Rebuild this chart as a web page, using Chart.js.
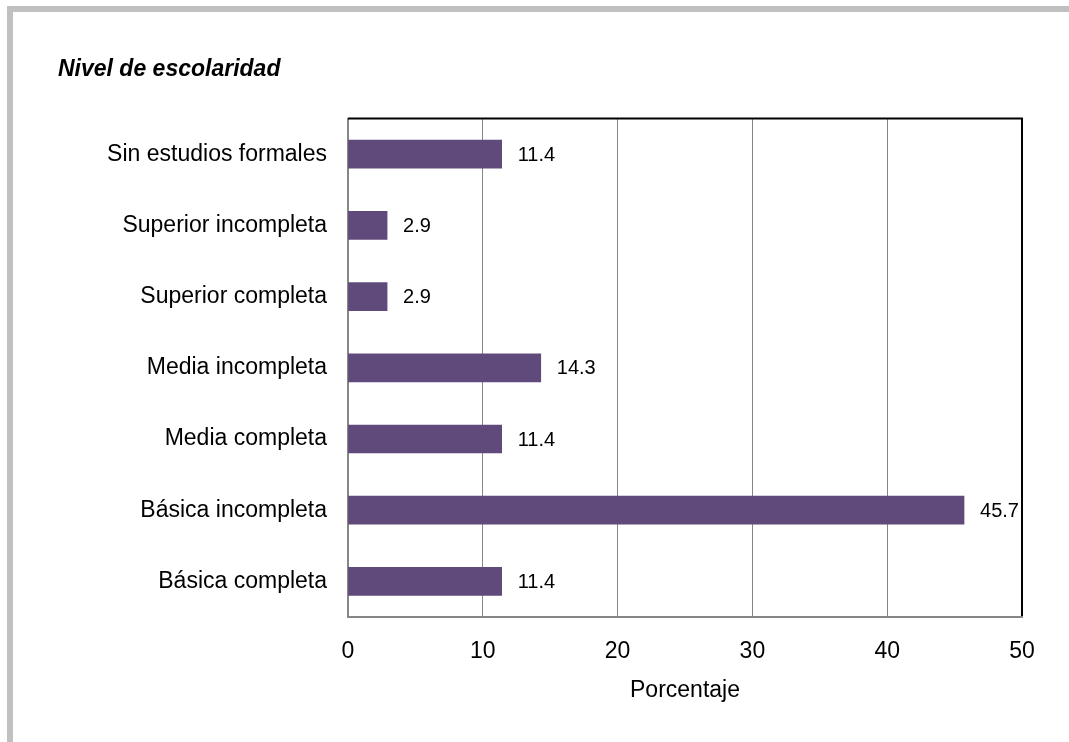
<!DOCTYPE html>
<html lang="es">
<head>
    <meta charset="UTF-8">
    <title>Nivel de escolaridad</title>
    <script src="https://cdn.jsdelivr.net/npm/chart.js"></script>
    <style>
        body {
            margin: 0;
            padding: 0;
            background: #ffffff;
        }
        #wrap {
            width: 1069px;
            height: 742px;
        }
    </style>
</head>
<body>
    <div id="wrap">
        <canvas id="escolaridadChart" width="1069" height="742"></canvas>
    </div>

    <script>
        // Niveles de escolaridad (de arriba hacia abajo)
        const categorias = [
            'Sin estudios formales',
            'Superior incompleta',
            'Superior completa',
            'Media incompleta',
            'Media completa',
            'Básica incompleta',
            'Básica completa'
        ];
        const porcentajes = [11.4, 2.9, 2.9, 14.3, 11.4, 45.7, 11.4];
        const ejeMin = 0;
        const ejeMax = 50;
        const ejePaso = 10;

        const FUENTE = '"Liberation Sans", Arial, sans-serif';
        const GRIS = '#868686';

        // marco gris exterior
        const marco = {
            id: 'marco',
            beforeDraw(chart) {
                const ctx = chart.ctx;
                ctx.save();
                ctx.fillStyle = '#c0c0c0';
                ctx.fillRect(7, 6, chart.width - 7, 6);
                ctx.fillRect(7, 6, 6, chart.height - 6);
                ctx.restore();
            }
        };

        // borde superior negro del area de trazado
        const bordeSuperior = {
            id: 'bordeSuperior',
            afterDraw(chart) {
                const a = chart.chartArea;
                const ctx = chart.ctx;
                ctx.save();
                ctx.strokeStyle = '#000000';
                ctx.lineWidth = 2;
                ctx.beginPath();
                ctx.moveTo(a.left, a.top);
                ctx.lineTo(a.right + 1, a.top);
                ctx.stroke();
                ctx.restore();
            }
        };

        // etiquetas con el valor de cada barra
        const etiquetasValor = {
            id: 'etiquetasValor',
            afterDatasetsDraw(chart) {
                const ctx = chart.ctx;
                const meta = chart.getDatasetMeta(0);
                ctx.save();
                ctx.font = '20px ' + FUENTE;
                ctx.fillStyle = '#000000';
                ctx.textAlign = 'left';
                ctx.textBaseline = 'middle';
                meta.data.forEach((bar, i) => {
                    const v = chart.data.datasets[0].data[i];
                    ctx.fillText(v.toFixed(1), bar.x + 16, bar.y + 1);
                });
                ctx.restore();
            }
        };

        const ctx = document.getElementById('escolaridadChart').getContext('2d');
        new Chart(ctx, {
            type: 'bar',
            data: {
                labels: categorias,
                datasets: [{
                    data: porcentajes,
                    backgroundColor: '#604A7B',
                    borderWidth: 0,
                    barThickness: 28
                }]
            },
            options: {
                indexAxis: 'y',
                responsive: false,
                animation: false,
                layout: {
                    padding: { left: 58, right: 47, top: 0, bottom: 0 }
                },
                plugins: {
                    legend: { display: false },
                    tooltip: { enabled: false },
                    title: {
                        display: true,
                        text: 'Nivel de escolaridad',
                        align: 'start',
                        color: '#000000',
                        font: { family: FUENTE, size: 23, weight: 'bold', style: 'italic' },
                        padding: { top: 56, bottom: 35 }
                    }
                },
                scales: {
                    x: {
                        min: ejeMin,
                        max: ejeMax,
                        ticks: {
                            stepSize: ejePaso,
                            color: '#000000',
                            padding: 21,
                            font: { family: FUENTE, size: 23 }
                        },
                        grid: {
                            drawTicks: false,
                            color: c => (c.tick && c.tick.value === ejeMax) ? '#000000' : GRIS,
                            lineWidth: c => (c.tick && c.tick.value === ejeMax) ? 2 : 1
                        },
                        border: { color: GRIS, width: 2 },
                        title: {
                            display: true,
                            text: 'Porcentaje',
                            color: '#000000',
                            font: { family: FUENTE, size: 23 },
                            padding: { top: 0, bottom: 38 }
                        },
                        afterFit(scale) { scale.height = 125; }
                    },
                    y: {
                        ticks: {
                            color: '#000000',
                            padding: 21,
                            font: { family: FUENTE, size: 23 }
                        },
                        grid: { display: false, drawTicks: false },
                        border: { color: GRIS, width: 2 },
                        afterFit(scale) { scale.width = 290; }
                    }
                }
            },
            plugins: [marco, bordeSuperior, etiquetasValor]
        });
    </script>
</body>
</html>
